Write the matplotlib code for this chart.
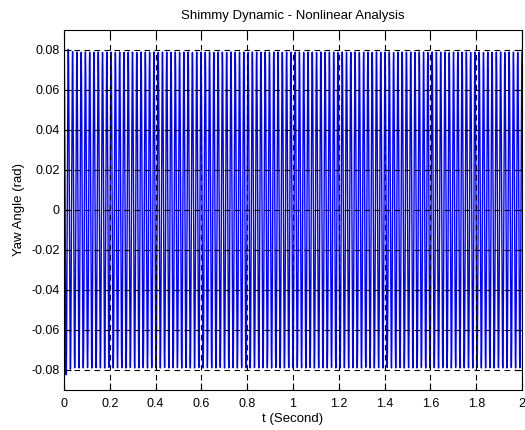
"""
Shimmy dynamic - nonlinear analysis: yaw angle time history
"""

import numpy as np
import matplotlib
matplotlib.use('Agg')
import matplotlib.pyplot as plt

# values
t_span = [0.0, 2.0]          # s
limit_amplitude = 0.079      # rad, limit cycle amplitude
start_value = 0.088          # rad, yaw angle at t = 0
shimmy_freq = 53.5           # Hz, about 107 cycles over 2 s
settle_time = 0.01           # s, initial overshoot dies out quickly
time_step = 0.0005           # s

x_ticks = [0, 0.2, 0.4, 0.6, 0.8, 1, 1.2, 1.4, 1.6, 1.8, 2]
x_ticklabels = ['0', '0.2', '0.4', '0.6', '0.8', '1', '1.2', '1.4', '1.6', '1.8', '2']
y_ticks = [-0.08, -0.06, -0.04, -0.02, 0, 0.02, 0.04, 0.06, 0.08]
y_ticklabels = ['-0.08', '-0.06', '-0.04', '-0.02', '0', '0.02', '0.04', '0.06', '0.08']

plt.rcParams['font.family'] = ['Liberation Sans', 'DejaVu Sans']

# time history of the yaw angle
t = np.arange(t_span[0], t_span[1] + time_step / 2, time_step)
amp = limit_amplitude + (start_value - limit_amplitude) * np.exp(-t / settle_time)
yaw = amp * np.cos(2 * np.pi * shimmy_freq * t)

fig = plt.figure(figsize=(5.25, 4.3), dpi=100)
ax = fig.add_axes([64 / 525, 40 / 430, 458 / 525, 360 / 430])

ax.plot(t, yaw, color='#0000ff', linewidth=1.0)

ax.set_xlim(0, 2)
ax.set_ylim(-0.09, 0.09)
ax.set_xticks(x_ticks)
ax.set_xticklabels(x_ticklabels)
ax.set_yticks(y_ticks)
ax.set_yticklabels(y_ticklabels)

# MATLAB-like dashed grid and inward ticks on all sides
ax.grid(True, color='k', linestyle=(0, (5, 4)), linewidth=0.8)
ax.set_axisbelow(False)
ax.tick_params(direction='in', top=True, right=True, length=5,
               labelsize=9, width=0.8)
ax.tick_params(axis='y', pad=3)
ax.tick_params(axis='x', pad=6)
for spine in ax.spines.values():
    spine.set_linewidth(0.8)

ax.set_title('Shimmy Dynamic - Nonlinear Analysis', fontsize=9.5, pad=8)
ax.set_xlabel('t (Second)', fontsize=9.5, labelpad=2)
ax.set_ylabel('Yaw Angle (rad)', fontsize=9.5, labelpad=5)

plt.savefig('out.png', dpi=100)
